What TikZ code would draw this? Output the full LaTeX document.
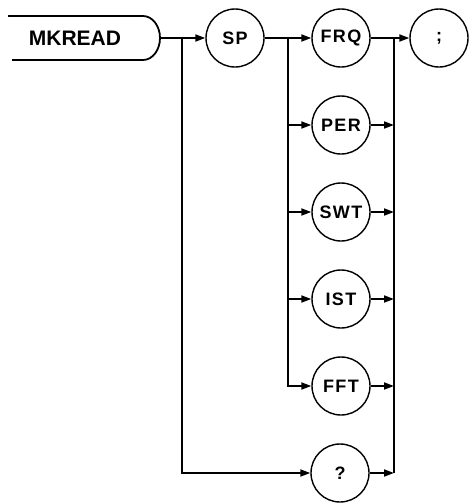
\documentclass[tikz,border=0pt]{standalone}
\usepackage{fontspec}
\setmainfont{Liberation Sans}
\usetikzlibrary{arrows.meta}
\begin{document}
\begin{tikzpicture}[x=1pt,y=1pt,
  kw/.style={circle,draw,line width=1.4pt,minimum size=58pt,inner sep=0pt,
    font=\fontsize{18}{18}\selectfont\bfseries\addfontfeature{LetterSpace=8}},
  conn/.style={line width=1.8pt},
  arr/.style={conn,-{Triangle[length=10pt,width=7pt]}}]
\useasboundingbox (0,0) rectangle (470,-504);
% MKREAD box
\draw[line width=1.8pt] (8,-16) -- (143,-16) arc[start angle=90,end angle=-90,x radius=17,y radius=22] -- (12,-60);
\node (mk) at (75,-38) {\fontsize{21}{21}\selectfont\bfseries MKREAD};
\coordinate (mkend) at (160,-38);
\coordinate (j1) at (182,-38);
\coordinate (j2) at (288,-38);
\coordinate (j3) at (394,-38);
% keyword circles
\node[kw] (sp)  at (235,-38)  {SP};
\node[kw] (frq) at (341,-38)  {FRQ};
\node[kw] (per) at (341,-125) {PER};
\node[kw] (swt) at (341,-212) {SWT};
\node[kw] (ist) at (341,-299) {IST};
\node[kw] (fft) at (341,-386) {FFT};
\node[kw] (q)   at (340,-473) {?};
\node[kw] (sc)  at (439,-38)  {;};
% connectors
\draw[arr] (mkend) -- (sp);
\draw[arr] (j1) |- (q);
\draw[arr] (sp) -- (frq);
\draw[arr] (j2) |- (per);
\draw[arr] (j2) |- (swt);
\draw[arr] (j2) |- (ist);
\draw[arr] (j2) |- (fft);
\draw[arr] (frq) -- (sc);
\draw[arr] (per) -- (per -| j3);
\draw[arr] (swt) -- (swt -| j3);
\draw[arr] (ist) -- (ist -| j3);
\draw[arr] (fft) -- (fft -| j3);
\draw[arr] (q) -- (q -| j3);
\draw[conn] (q -| j3) -- (j3);
\end{tikzpicture}
\end{document}
